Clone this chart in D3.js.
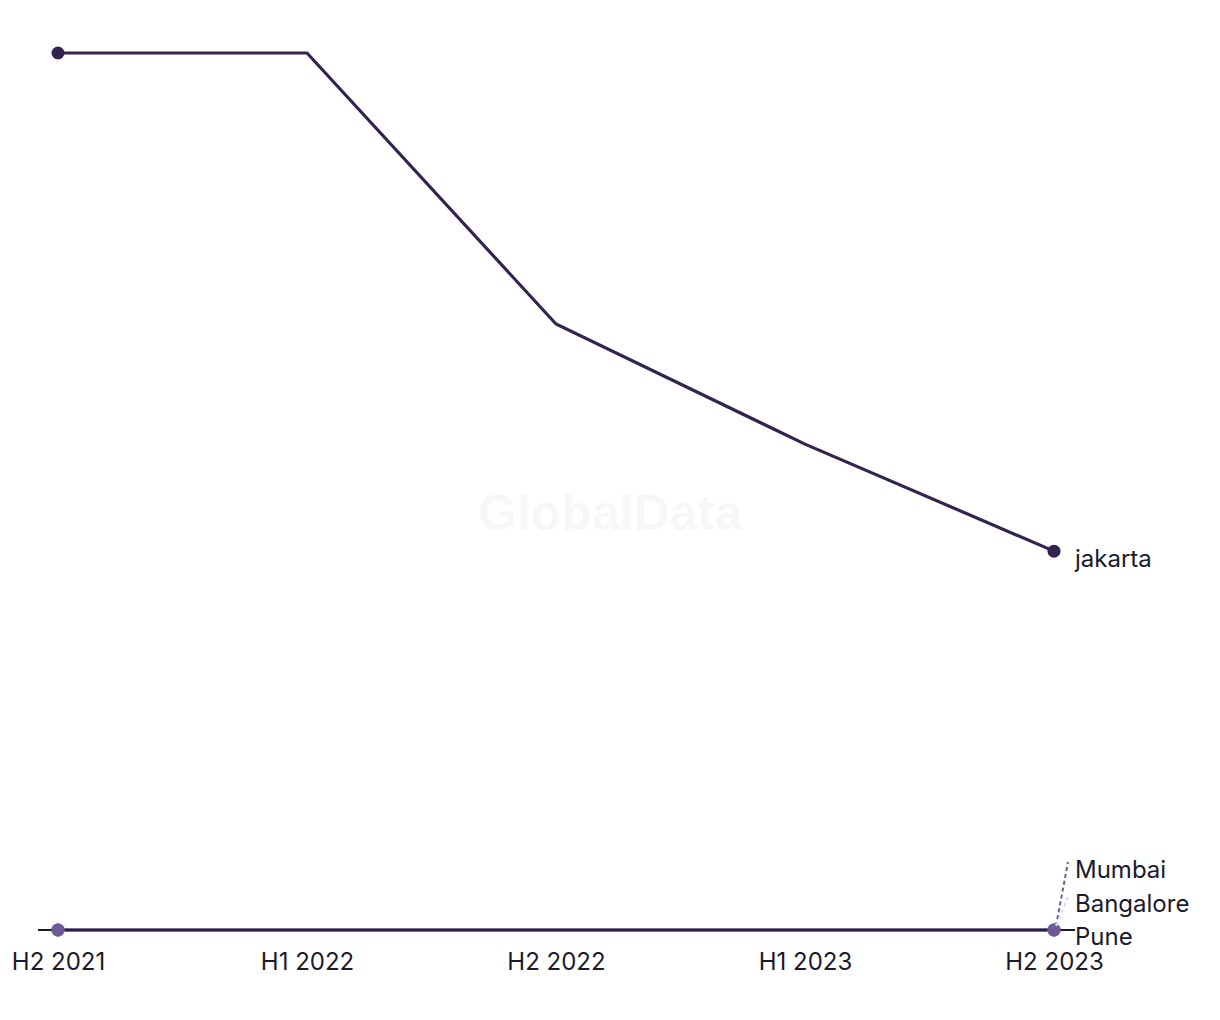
<!DOCTYPE html>
<html><head><meta charset="utf-8">
<script src="https://cdn.jsdelivr.net/npm/d3@7"></script>
<style>body{margin:0;background:#fff;}svg{display:block;font-family:Inter,"Noto Sans",sans-serif;}</style>
</head><body><svg id="c" width="1220" height="1020"></svg>
<script>
const categories = ["H2 2021","H1 2022","H2 2022","H1 2023","H2 2023"];
const jakarta = [100, 100, 69.1, 55.4, 43.2];
const mumbai = [0, 0, 0, 0, 0];
const bangalore = [0, 0, 0, 0, 0];
const pune = [0, 0, 0, 0, 0];
const seriesNames = ["Pune","Bangalore","Mumbai","jakarta"];
const seriesColors = ["#6f5a99","#d9c8f0","#2b1f45","#35234f"];

const svg = d3.select("#c");
const x = d3.scalePoint().domain(categories).range([58,1054]);
const y = d3.scaleLinear().domain([0,100]).range([930,53]);

// watermark
svg.append("text").attr("x",610).attr("y",530).attr("text-anchor","middle")
  .attr("font-family","Liberation Sans, Arial, sans-serif").attr("font-weight","bold")
  .attr("font-size",50).attr("fill","#f7f7f7").text("GlobalData");

// baseline axis
const ax = svg.append("g").attr("transform","translate(0,930)")
  .call(d3.axisBottom(x).tickSize(0).tickPadding(23));
ax.select(".domain").remove();
ax.selectAll("text").attr("font-size",24).attr("fill","#1a1a2e").attr("font-family","Inter, sans-serif");
svg.append("line").attr("x1",38).attr("x2",1075).attr("y1",y(0)).attr("y2",y(0))
  .attr("stroke","#1a1a2e").attr("stroke-width",2);

const line = d3.line().x((d,i)=>x(categories[i])).y(d=>y(d));
const data = [pune, bangalore, mumbai, jakarta];
data.forEach((vals,k)=>{
  svg.append("path").datum(vals).attr("d",line).attr("fill","none")
    .attr("stroke",seriesColors[k]).attr("stroke-width",3.2);
});
// end points
const last = categories.length-1;
[pune,bangalore,mumbai].forEach((vals)=>{
  [0,last].forEach(i=>svg.append("circle").attr("cx",x(categories[i])).attr("cy",y(vals[i])).attr("r",6.5).attr("fill","#6f5a99"));
});
[0,last].forEach(i=>svg.append("circle").attr("cx",x(categories[i])).attr("cy",y(jakarta[i])).attr("r",6.5).attr("fill","#35234f"));

// labels
const lx = 1075;
svg.append("text").attr("x",lx).attr("y",y(jakarta[last])+16).attr("font-size",24).attr("fill","#1a1a2e").text("jakarta");
const zeroLabels = [
  {name:"Mumbai", ty:878, ly:862, color:"#6f5a99"},
  {name:"Bangalore", ty:912, ly:897, color:"#e3d6f5"},
  {name:"Pune", ty:945, ly:null}
];
zeroLabels.forEach(l=>{
  if(l.ly!==null){
    svg.append("line").attr("x1",x(categories[last])+2).attr("y1",y(0)-4).attr("x2",1068).attr("y2",l.ly)
      .attr("stroke",l.color).attr("stroke-width",2).attr("stroke-dasharray","4,3");
  }
  svg.append("text").attr("x",lx).attr("y",l.ty).attr("font-size",24).attr("fill","#1a1a2e").text(l.name);
});
</script></body></html>
